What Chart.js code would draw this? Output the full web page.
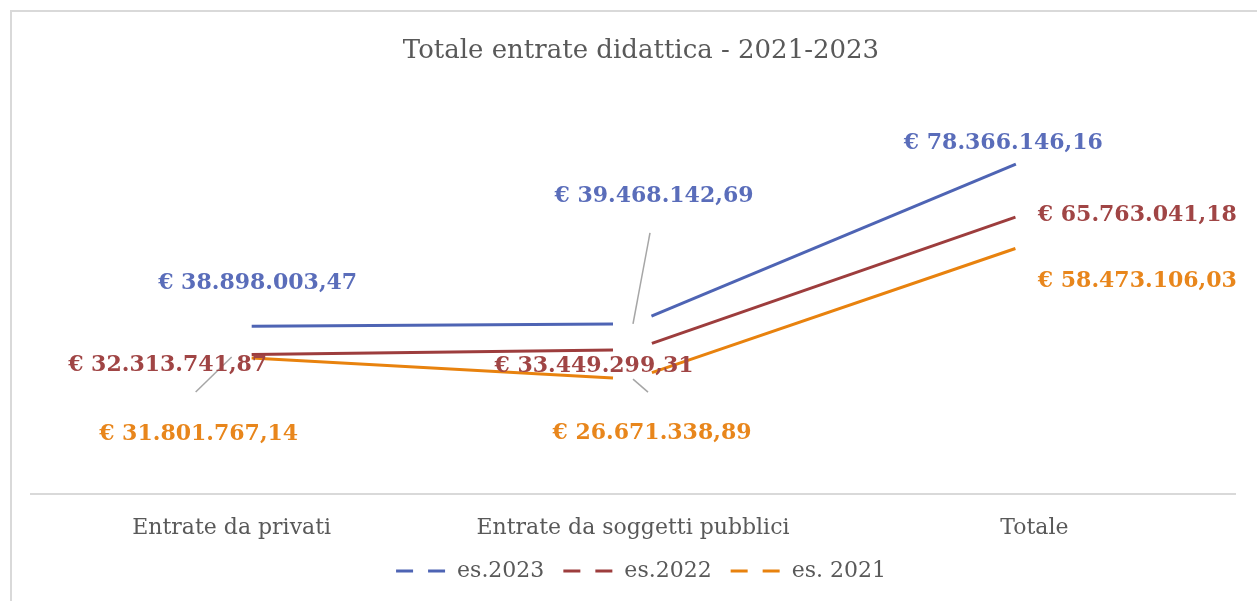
<!DOCTYPE html>
<html lang="it">
<head>
<meta charset="utf-8">
<title>Totale entrate didattica - 2021-2023</title>
<script src="https://cdn.jsdelivr.net/npm/chart.js@4.4.1/dist/chart.umd.min.js"></script>
<style>
  html, body { margin: 0; padding: 0; background: #ffffff; }
  #chart { display: block; }
</style>
</head>
<body>
<canvas id="chart" width="1257" height="601"></canvas>
<script>
const categories = ['Entrate da privati', 'Entrate da soggetti pubblici', 'Totale'];
const seriesNames = ['es.2023', 'es.2022', 'es. 2021'];
const es2023 = [38898003.47, 39468142.69, 78366146.16];
const es2022 = [32313741.87, 33449299.31, 65763041.18];
const es2021 = [31801767.14, 26671338.89, 58473106.03];

const FONT = "'DejaVu Serif', 'Liberation Serif', serif";
const TEXT_GRAY = '#595959';
const LINE_COLORS = ['#4e64b4', '#9d3d3d', '#e8820e'];
const LABEL_COLORS = ['#5a6dba', '#a04545', '#e8861c'];
const LEGEND_DASH = [17, 15];

// label placement around each point: [dx, dy] to the label centre, optional leader end
const labelOffsets = [
  [{ d: [26, -43] }, { d: [21, -128], leader: [17, -91] }, { d: [-31, -13] }],
  [{ d: [-64, 11] }, { d: [-39, 16] }, { d: [103, 5] }],
  [{ d: [-33, 77], leader: [-36, 35] }, { d: [19, 54], leader: [15, 13] }, { d: [103, 39] }]
];

// Italian currency format: € 38.898.003,47
function euro(v) {
  const parts = v.toFixed(2).split('.');
  const intPart = parts[0].replace(/\B(?=(\d{3})+(?!\d))/g, '.');
  return '€ ' + intPart + ',' + parts[1];
}

// lines stop short of every point, leaving a gap around it
const POINT_GAP = 20;
function trimmedDash(ctx) {
  const L = Math.hypot(ctx.p1.x - ctx.p0.x, ctx.p1.y - ctx.p0.y);
  return [0, POINT_GAP, Math.max(L - 2 * POINT_GAP, 0), POINT_GAP];
}

const framePlugin = {
  id: 'frame',
  beforeDraw(chart) {
    const ctx = chart.ctx;
    ctx.save();
    ctx.fillStyle = '#ffffff';
    ctx.fillRect(0, 0, chart.width, chart.height);
    ctx.strokeStyle = '#d9d9d9';
    ctx.lineWidth = 2;
    ctx.strokeRect(11, 11, chart.width + 50, chart.height + 50);
    ctx.restore();
  }
};

const valueLabelsPlugin = {
  id: 'valueLabels',
  afterDatasetsDraw(chart) {
    const ctx = chart.ctx;
    ctx.save();
    chart.data.datasets.forEach((ds, i) => {
      const meta = chart.getDatasetMeta(i);
      meta.data.forEach((pt, j) => {
        const cfg = labelOffsets[i][j];
        if (cfg.leader) {
          ctx.strokeStyle = '#a6a6a6';
          ctx.lineWidth = 1.5;
          ctx.beginPath();
          ctx.moveTo(pt.x, pt.y);
          ctx.lineTo(pt.x + cfg.leader[0], pt.y + cfg.leader[1]);
          ctx.stroke();
        }
      });
    });
    ctx.font = 'bold 22px ' + FONT;
    ctx.textAlign = 'center';
    ctx.textBaseline = 'middle';
    chart.data.datasets.forEach((ds, i) => {
      const meta = chart.getDatasetMeta(i);
      meta.data.forEach((pt, j) => {
        const cfg = labelOffsets[i][j];
        ctx.fillStyle = LABEL_COLORS[i];
        ctx.fillText(euro(ds.data[j]), pt.x + cfg.d[0], pt.y + cfg.d[1]);
      });
    });
    ctx.restore();
  }
};

const seriesData = [es2023, es2022, es2021];

new Chart(document.getElementById('chart'), {
  type: 'line',
  data: {
    labels: categories,
    datasets: seriesData.map((values, i) => ({
      label: seriesNames[i],
      data: values,
      borderColor: LINE_COLORS[i],
      backgroundColor: LINE_COLORS[i],
      borderWidth: 3,
      pointRadius: 0,
      pointHoverRadius: 0,
      tension: 0,
      fill: false,
      segment: { borderDash: trimmedDash }
    }))
  },
  options: {
    responsive: false,
    animation: false,
    devicePixelRatio: 1,
    layout: { padding: { left: 31, right: 6, top: 0, bottom: 9 } },
    plugins: {
      title: {
        display: true,
        text: 'Totale entrate didattica - 2021-2023',
        color: TEXT_GRAY,
        font: { family: FONT, size: 26, weight: 'normal', lineHeight: 1.2 },
        padding: { top: 36, bottom: 39 }
      },
      legend: {
        position: 'bottom',
        labels: {
          usePointStyle: true,
          pointStyle: 'line',
          pointStyleWidth: 50,
          padding: 19,
          color: TEXT_GRAY,
          font: { family: FONT, size: 22 },
          generateLabels(chart) {
            const items = Chart.defaults.plugins.legend.labels.generateLabels(chart);
            items.forEach(it => {
              it.lineDash = LEGEND_DASH;
              it.lineWidth = 3;
            });
            return items;
          }
        }
      },
      tooltip: { enabled: false }
    },
    scales: {
      x: {
        offset: true,
        grid: { display: false, drawTicks: false },
        border: { display: true, color: '#d9d9d9', width: 2 },
        ticks: {
          color: TEXT_GRAY,
          padding: 21,
          maxRotation: 0,
          font: { family: FONT, size: 22, lineHeight: 1.2 }
        },
        afterFit(scale) { scale.height = 47; }
      },
      y: {
        position: 'right',
        min: 0,
        max: 90000000,
        grid: { display: false },
        border: { display: false },
        ticks: { display: false },
        afterFit(scale) { scale.width = 16; }
      }
    }
  },
  plugins: [framePlugin, valueLabelsPlugin]
});
</script>
</body>
</html>
